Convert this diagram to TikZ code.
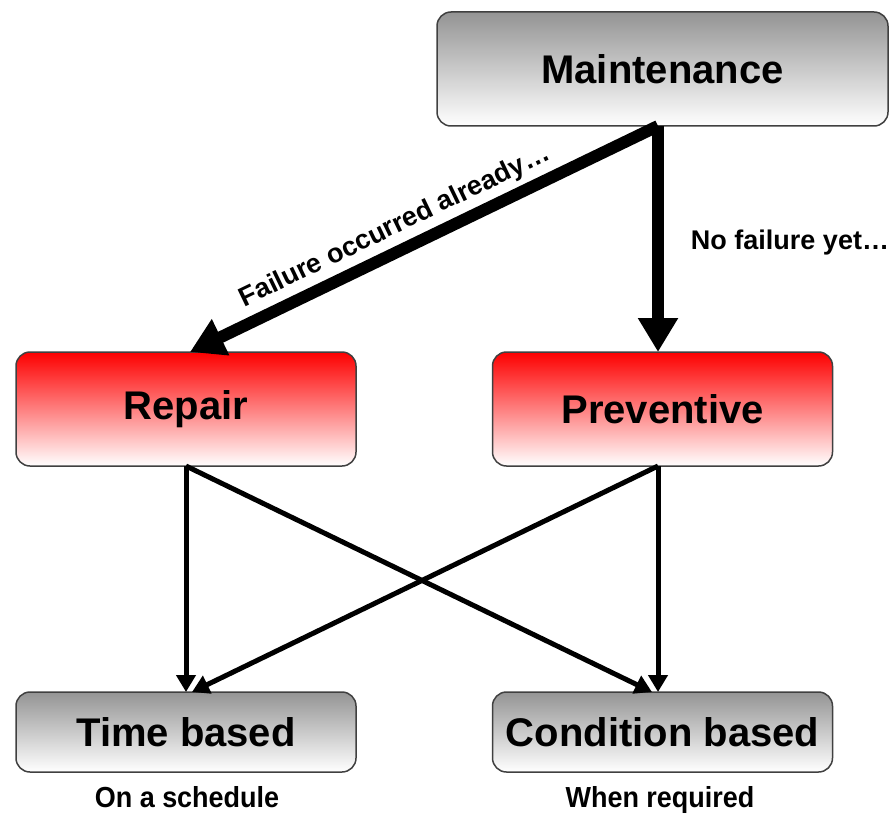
\documentclass[tikz,border=0pt]{standalone}
\usepackage{fontspec}
\setmainfont{Liberation Sans}
\newfontfamily\condfont[FakeStretch=0.93]{Liberation Sans}
\usetikzlibrary{arrows.meta,shadings}
\begin{document}
\begin{tikzpicture}[x=1pt,y=-1pt,
  box/.style={draw=black!75, line width=1.5pt, rounded corners=14pt, inner sep=0pt,
    font=\fontsize{40}{46}\selectfont\bfseries, text=black},
  graybox/.style={box, top color=black!42, bottom color=white},
  redbox/.style={box, top color=red!85!black!5!red, bottom color=white},
  thick arrow/.style={line width=12pt, -{Triangle[length=34pt,width=38pt]}},
  thin arrow/.style={line width=5pt, -{Triangle[length=17pt,width=19pt]}},
  lbl/.style={font=\fontsize{27}{31}\selectfont\bfseries, inner sep=0pt},
  sublbl/.style={font=\condfont\fontsize{29}{33}\selectfont\bfseries, inner sep=0pt, anchor=base}
]
\useasboundingbox (0,0) rectangle (893,821);
\node[graybox, minimum width=451pt, minimum height=114pt] (m) at (662.5,69) {Maintenance};
\node[redbox, minimum width=340pt, minimum height=114pt] (r) at (186,409) {Repair};
\node[redbox, minimum width=340pt, minimum height=114pt] (p) at (662.5,409) {Preventive};
\node[graybox, minimum width=340pt, minimum height=80pt] (t) at (186,732) {Time based};
\node[graybox, minimum width=340pt, minimum height=80pt] (c) at (662.5,732) {Condition based};
\node[sublbl] (os) at (187,807) {On a schedule};
\node[sublbl] (wr) at (660,807) {When required};
\coordinate (mo) at (658,126);
\coordinate (rt) at (190,352);
\coordinate (pt) at (658,352);
\draw[thick arrow] (mo) -- node[lbl, sloped, above=5pt, pos=0.54] (fl) {Failure occurred already…} (rt);
\draw[thick arrow] (mo) -- (pt);
\node[lbl] (nf) at (790,243) {No failure yet…};
\coordinate (rb) at (186,466);
\coordinate (pb) at (658,466);
\coordinate (tt) at (186,692);
\coordinate (tt2) at (192,692);
\coordinate (ct) at (658,692);
\coordinate (ct2) at (652,692);
\draw[thin arrow] (rb) -- (tt);
\draw[thin arrow] (rb) -- (ct2);
\draw[thin arrow] (pb) -- (tt2);
\draw[thin arrow] (pb) -- (ct);
\end{tikzpicture}
\end{document}
